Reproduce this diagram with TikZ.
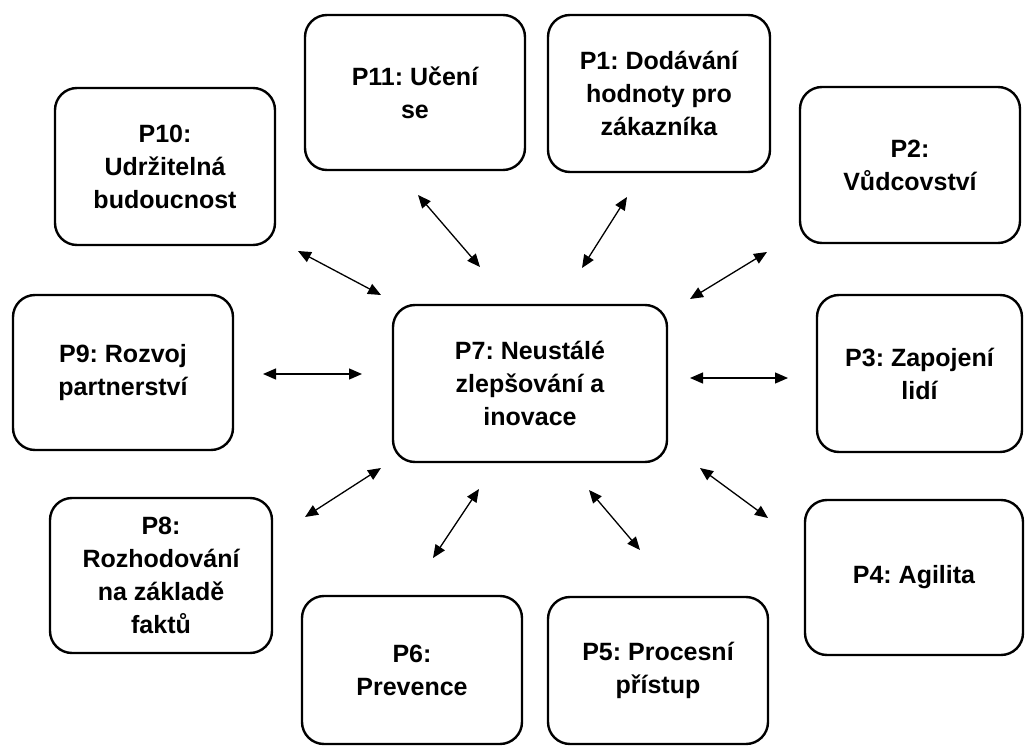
\documentclass[tikz,border=0pt]{standalone}
\usepackage{fontspec}
\setmainfont{Liberation Sans}
\usetikzlibrary{arrows.meta,positioning}
\frenchspacing

\begin{document}
\begin{tikzpicture}[
  x=1pt,y=-1pt,
  box/.style={draw,line width=2.4pt,rounded corners=22pt,align=center,
              inner sep=0pt,font=\fontsize{25}{33}\selectfont\bfseries},
  biarr/.style={{Triangle[length=13pt,width=11pt]}-{Triangle[length=13pt,width=11pt]},line width=1.3pt}
]
\useasboundingbox (0,0) rectangle (1026,749);
\node[box,minimum width=274pt,minimum height=157pt] (p7) at (530,383.5) {P7: Neustálé\\zlepšování a\\inovace};
\node[box,minimum width=220pt,minimum height=155pt] (p11) at (415,92.5) {P11: Učení\\se};
\node[box,minimum width=222pt,minimum height=157pt] (p1) at (659,93.5) {P1: Dodávání\\hodnoty pro\\zákazníka};
\node[box,minimum width=220pt,minimum height=157pt] (p10) at (165,166.5) {P10:\\Udržitelná\\budoucnost};
\node[box,minimum width=220pt,minimum height=156pt] (p2) at (910,165) {P2:\\Vůdcovství};
\node[box,minimum width=220pt,minimum height=155pt] (p9) at (123,372.5) {P9: Rozvoj\\partnerství};
\node[box,minimum width=205pt,minimum height=157pt] (p3) at (919.5,373.5) {P3: Zapojení\\lidí};
\node[box,minimum width=222pt,minimum height=155pt] (p8) at (161,575.5) {P8:\\Rozhodování\\na základě\\faktů};
\node[box,minimum width=218pt,minimum height=155pt] (p4) at (914,577.5) {P4: Agilita};
\node[box,minimum width=220pt,minimum height=148pt] (p6) at (412,670) {P6:\\Prevence};
\node[box,minimum width=220pt,minimum height=147pt] (p5) at (658,670.5) {P5: Procesní\\přístup};
% arrow ends
\coordinate (a11) at (418,195); \coordinate (b11) at (480,267);
\coordinate (a1) at (627,197);  \coordinate (b1) at (582,268);
\coordinate (a10) at (298,251); \coordinate (b10) at (381,295);
\coordinate (a2) at (767,252);  \coordinate (b2) at (690,299);
\coordinate (a9) at (263,374);  \coordinate (b9) at (362,374);
\coordinate (a3) at (788,378);  \coordinate (b3) at (690,378);
\coordinate (a8) at (305,517);  \coordinate (b8) at (381,468);
\coordinate (a4) at (768,518);  \coordinate (b4) at (700,468);
\coordinate (a6) at (433,558);  \coordinate (b6) at (479,489);
\coordinate (a5) at (640,550);  \coordinate (b5) at (589,490);
\draw[biarr] (a11)--(b11);
\draw[biarr] (a1)--(b1);
\draw[biarr] (a10)--(b10);
\draw[biarr] (a2)--(b2);
\draw[biarr] (a9)--(b9);
\draw[biarr] (a3)--(b3);
\draw[biarr] (a8)--(b8);
\draw[biarr] (a4)--(b4);
\draw[biarr] (a6)--(b6);
\draw[biarr] (a5)--(b5);
\end{tikzpicture}
\end{document}
